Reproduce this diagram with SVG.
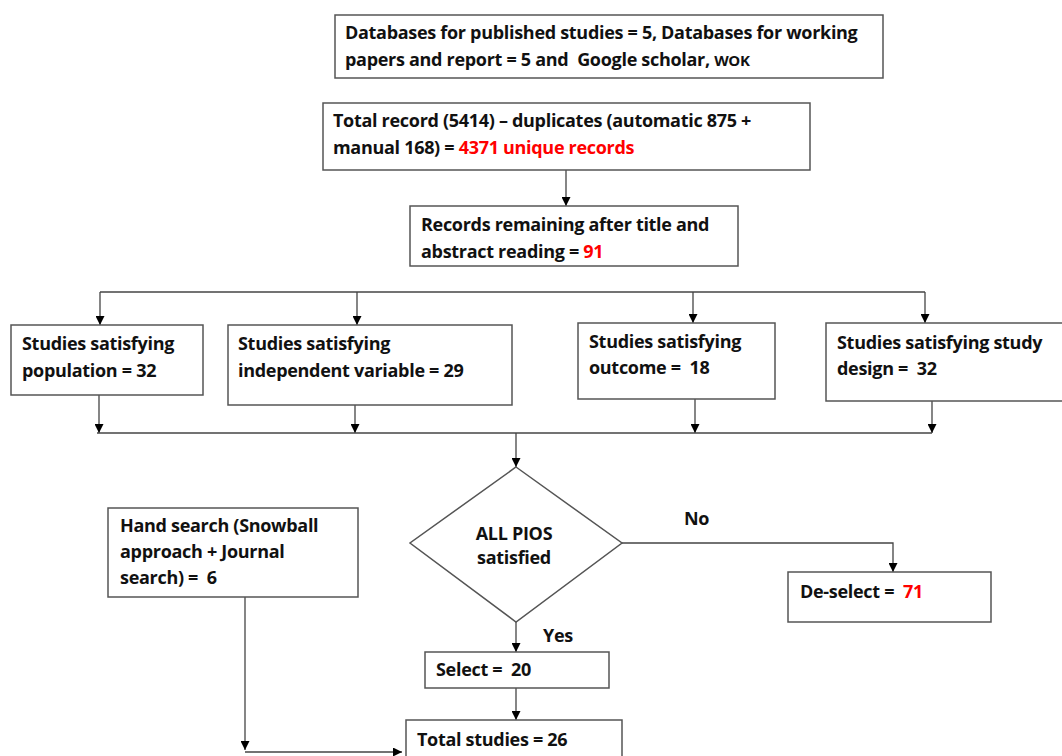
<svg xmlns="http://www.w3.org/2000/svg" width="1062" height="756" viewBox="0 0 1062 756">
<defs>
<marker id="ah" viewBox="0 0 10 10" refX="10" refY="5" markerWidth="9" markerHeight="9" markerUnits="userSpaceOnUse" orient="auto">
<path d="M0,0 L10,5 L0,10 z" fill="#000"/>
</marker>
</defs>
<style>
.box{fill:#fff;stroke:#555;stroke-width:1.5}
.t{font-family:"Open Sans",Lato,"Liberation Sans",sans-serif;font-weight:bold;font-size:18px;letter-spacing:-0.3px;fill:#111;white-space:pre}
.r{fill:#ff0000}
.c{fill:none;stroke:#444;stroke-width:1.3}
.ca{fill:none;stroke:#444;stroke-width:1.3;marker-end:url(#ah)}
</style>
<rect width="1062" height="756" fill="#fff"/>
<g id="connectors">
<line class="ca" x1="566" y1="170" x2="566" y2="206"/>
<polyline class="c" points="100,292 925,292"/>
<line class="ca" x1="100" y1="292" x2="100" y2="325"/>
<line class="ca" x1="357" y1="292" x2="357" y2="325"/>
<line class="ca" x1="693" y1="292" x2="693" y2="323"/>
<line class="ca" x1="925" y1="292" x2="925" y2="323"/>
<line class="ca" x1="99" y1="395" x2="99" y2="433"/>
<line class="ca" x1="355" y1="405" x2="355" y2="433"/>
<line class="ca" x1="695" y1="399" x2="695" y2="433"/>
<line class="ca" x1="932" y1="401" x2="932" y2="433"/>
<polyline class="c" points="97,433 932,433"/>
<line class="ca" x1="516" y1="433" x2="516" y2="467"/>
<polyline class="ca" points="622,543 893,543 893,572"/>
<line class="ca" x1="516" y1="622" x2="516" y2="652"/>
<line class="ca" x1="516" y1="688" x2="516" y2="720"/>
<polyline class="ca" points="245,597 245,750"/>
<polyline class="ca" points="245,752 402,752"/>
</g>
<g id="n1">
<rect class="box" x="335" y="15" width="548" height="63"/>
<text class="t" x="345" y="39">Databases for published studies = 5, Databases for working</text>
<text class="t" x="345" y="66">papers and report = 5 and  Google scholar, <tspan font-size="15">WOK</tspan></text>
</g>
<g id="n2">
<rect class="box" x="323" y="103" width="487" height="67"/>
<text class="t" x="333" y="127">Total record (5414) – duplicates (automatic 875 +</text>
<text class="t" x="333" y="154">manual 168) = <tspan class="r">4371 unique records</tspan></text>
</g>
<g id="n3">
<rect class="box" x="410" y="206" width="328" height="60"/>
<text class="t" x="421" y="231">Records remaining after title and</text>
<text class="t" x="421" y="258">abstract reading = <tspan class="r">91</tspan></text>
</g>
<g id="n4">
<rect class="box" x="11" y="325" width="192" height="70"/>
<text class="t" x="22" y="350">Studies satisfying</text>
<text class="t" x="22" y="377">population = 32</text>
</g>
<g id="n5">
<rect class="box" x="228" y="325" width="284" height="80"/>
<text class="t" x="238" y="350">Studies satisfying</text>
<text class="t" x="238" y="377">independent variable = 29</text>
</g>
<g id="n6">
<rect class="box" x="578" y="323" width="197" height="76"/>
<text class="t" x="589" y="348">Studies satisfying</text>
<text class="t" x="589" y="374">outcome =  18</text>
</g>
<g id="n7">
<rect class="box" x="826" y="323" width="240" height="78"/>
<text class="t" x="837" y="349">Studies satisfying study</text>
<text class="t" x="837" y="375">design =  32</text>
</g>
<g id="n8">
<polygon class="box" points="516,467 622,543 516,622 410,543"/>
<text class="t" x="514" y="540" text-anchor="middle">ALL PIOS</text>
<text class="t" x="514" y="564" text-anchor="middle">satisfied</text>
</g>
<g id="n9">
<rect class="box" x="108" y="508" width="250" height="89"/>
<text class="t" x="120" y="532">Hand search (Snowball</text>
<text class="t" x="120" y="558">approach + Journal</text>
<text class="t" x="120" y="584">search) =  6</text>
</g>
<g id="n10">
<rect class="box" x="788" y="572" width="203" height="50"/>
<text class="t" x="800" y="598">De-select =  <tspan class="r">71</tspan></text>
</g>
<g id="n11">
<rect class="box" x="425" y="652" width="184" height="36"/>
<text class="t" x="436" y="676">Select =  20</text>
</g>
<g id="n12">
<rect class="box" x="406" y="720" width="216" height="50"/>
<text class="t" x="417" y="746">Total studies = 26</text>
</g>
<g id="labels">
<text class="t" x="684" y="525">No</text>
<text class="t" x="543" y="642">Yes</text>
</g>
</svg>
